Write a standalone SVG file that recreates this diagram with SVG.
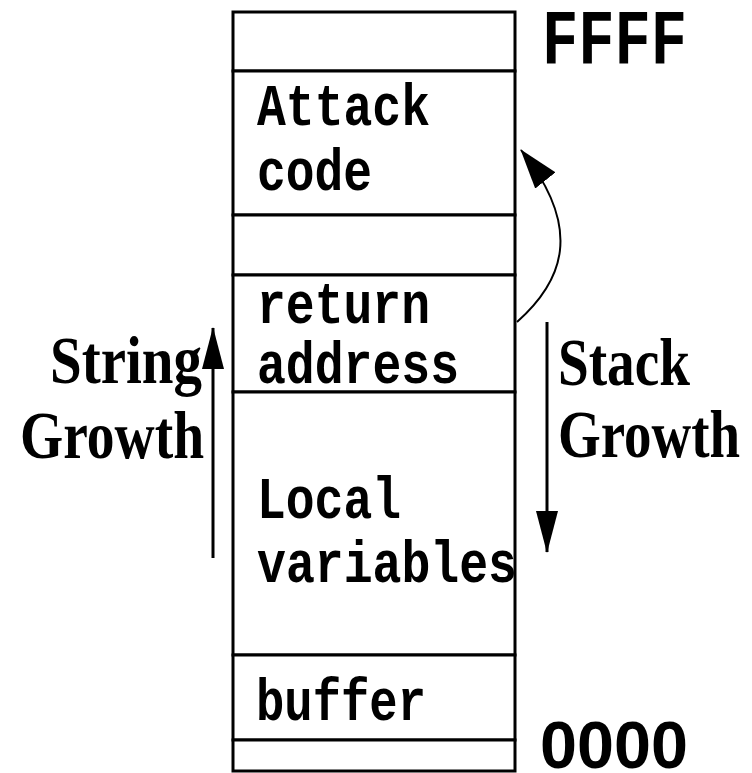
<svg xmlns="http://www.w3.org/2000/svg" width="752" height="773" viewBox="0 0 752 773">
<style>
.cell{fill:#fff;stroke:#000;stroke-width:3}
.mono{font-family:"Liberation Mono","Courier New",monospace;font-weight:bold;font-size:59px;fill:#000}
.serif{font-family:"Liberation Serif","Times New Roman",serif;font-weight:bold;font-size:68px;fill:#000}
.sans{font-family:"Liberation Sans",Arial,sans-serif;font-weight:bold;font-size:66px;fill:#000}
.conn{fill:none;stroke:#000;stroke-width:3}
</style>
<defs>
<marker id="head" markerUnits="userSpaceOnUse" markerWidth="42" markerHeight="22" refX="41" refY="11" orient="auto" viewBox="0 0 42 22">
<path d="M0,0 L42,11 L0,22 Z" fill="#000"/>
</marker>
<marker id="head2" markerUnits="userSpaceOnUse" markerWidth="40" markerHeight="26" refX="39" refY="13" orient="auto" viewBox="0 0 40 26">
<path d="M0,0 L40,13 L0,26 Z" fill="#000"/>
</marker>
</defs>
<rect width="752" height="773" fill="#fff"/>
<g id="cell-top"><rect class="cell" x="233" y="12" width="282" height="59"/></g>
<g id="cell-attack"><rect class="cell" x="233" y="71" width="282" height="144"/>
<text class="mono" x="257" y="125" textLength="173" lengthAdjust="spacingAndGlyphs">Attack</text>
<text class="mono" x="257" y="190" textLength="115" lengthAdjust="spacingAndGlyphs">code</text></g>
<g id="cell-gap"><rect class="cell" x="233" y="215" width="282" height="60"/></g>
<g id="cell-return"><rect class="cell" x="233" y="275" width="282" height="117"/>
<text class="mono" x="257" y="323" textLength="173" lengthAdjust="spacingAndGlyphs">return</text>
<text class="mono" x="257" y="383" textLength="202" lengthAdjust="spacingAndGlyphs">address</text></g>
<g id="cell-local"><rect class="cell" x="233" y="392" width="282" height="263"/>
<text class="mono" x="257" y="518" textLength="144" lengthAdjust="spacingAndGlyphs">Local</text>
<text class="mono" x="257" y="582" textLength="260" lengthAdjust="spacingAndGlyphs">variables</text></g>
<g id="cell-buffer"><rect class="cell" x="233" y="655" width="282" height="85"/>
<text class="mono" x="256" y="720" textLength="170" lengthAdjust="spacingAndGlyphs">buffer</text></g>
<g id="cell-bottom"><rect class="cell" x="233" y="740" width="282" height="31"/></g>
<g id="label-ffff"><text class="mono" x="542" y="63" style="font-size:77px" textLength="145" lengthAdjust="spacingAndGlyphs">FFFF</text></g>
<g id="label-0000"><text class="sans" x="540" y="768" textLength="148" lengthAdjust="spacingAndGlyphs">0000</text></g>
<g id="label-string"><text class="serif" x="50" y="383" textLength="152" lengthAdjust="spacingAndGlyphs">String</text>
<text class="serif" x="20" y="458" textLength="184" lengthAdjust="spacingAndGlyphs">Growth</text></g>
<g id="label-stack"><text class="serif" x="558" y="385" textLength="132" lengthAdjust="spacingAndGlyphs">Stack</text>
<text class="serif" x="558" y="457" textLength="182" lengthAdjust="spacingAndGlyphs">Growth</text></g>
<g id="connectors">
<path class="conn" d="M213,558 L213,328" marker-end="url(#head)"/>
<path class="conn" d="M547,322 L547,552" marker-end="url(#head)"/>
<path class="conn" style="stroke-width:2" d="M517,322 C562,282 585,230 521,150" marker-end="url(#head2)"/>
</g>
</svg>
